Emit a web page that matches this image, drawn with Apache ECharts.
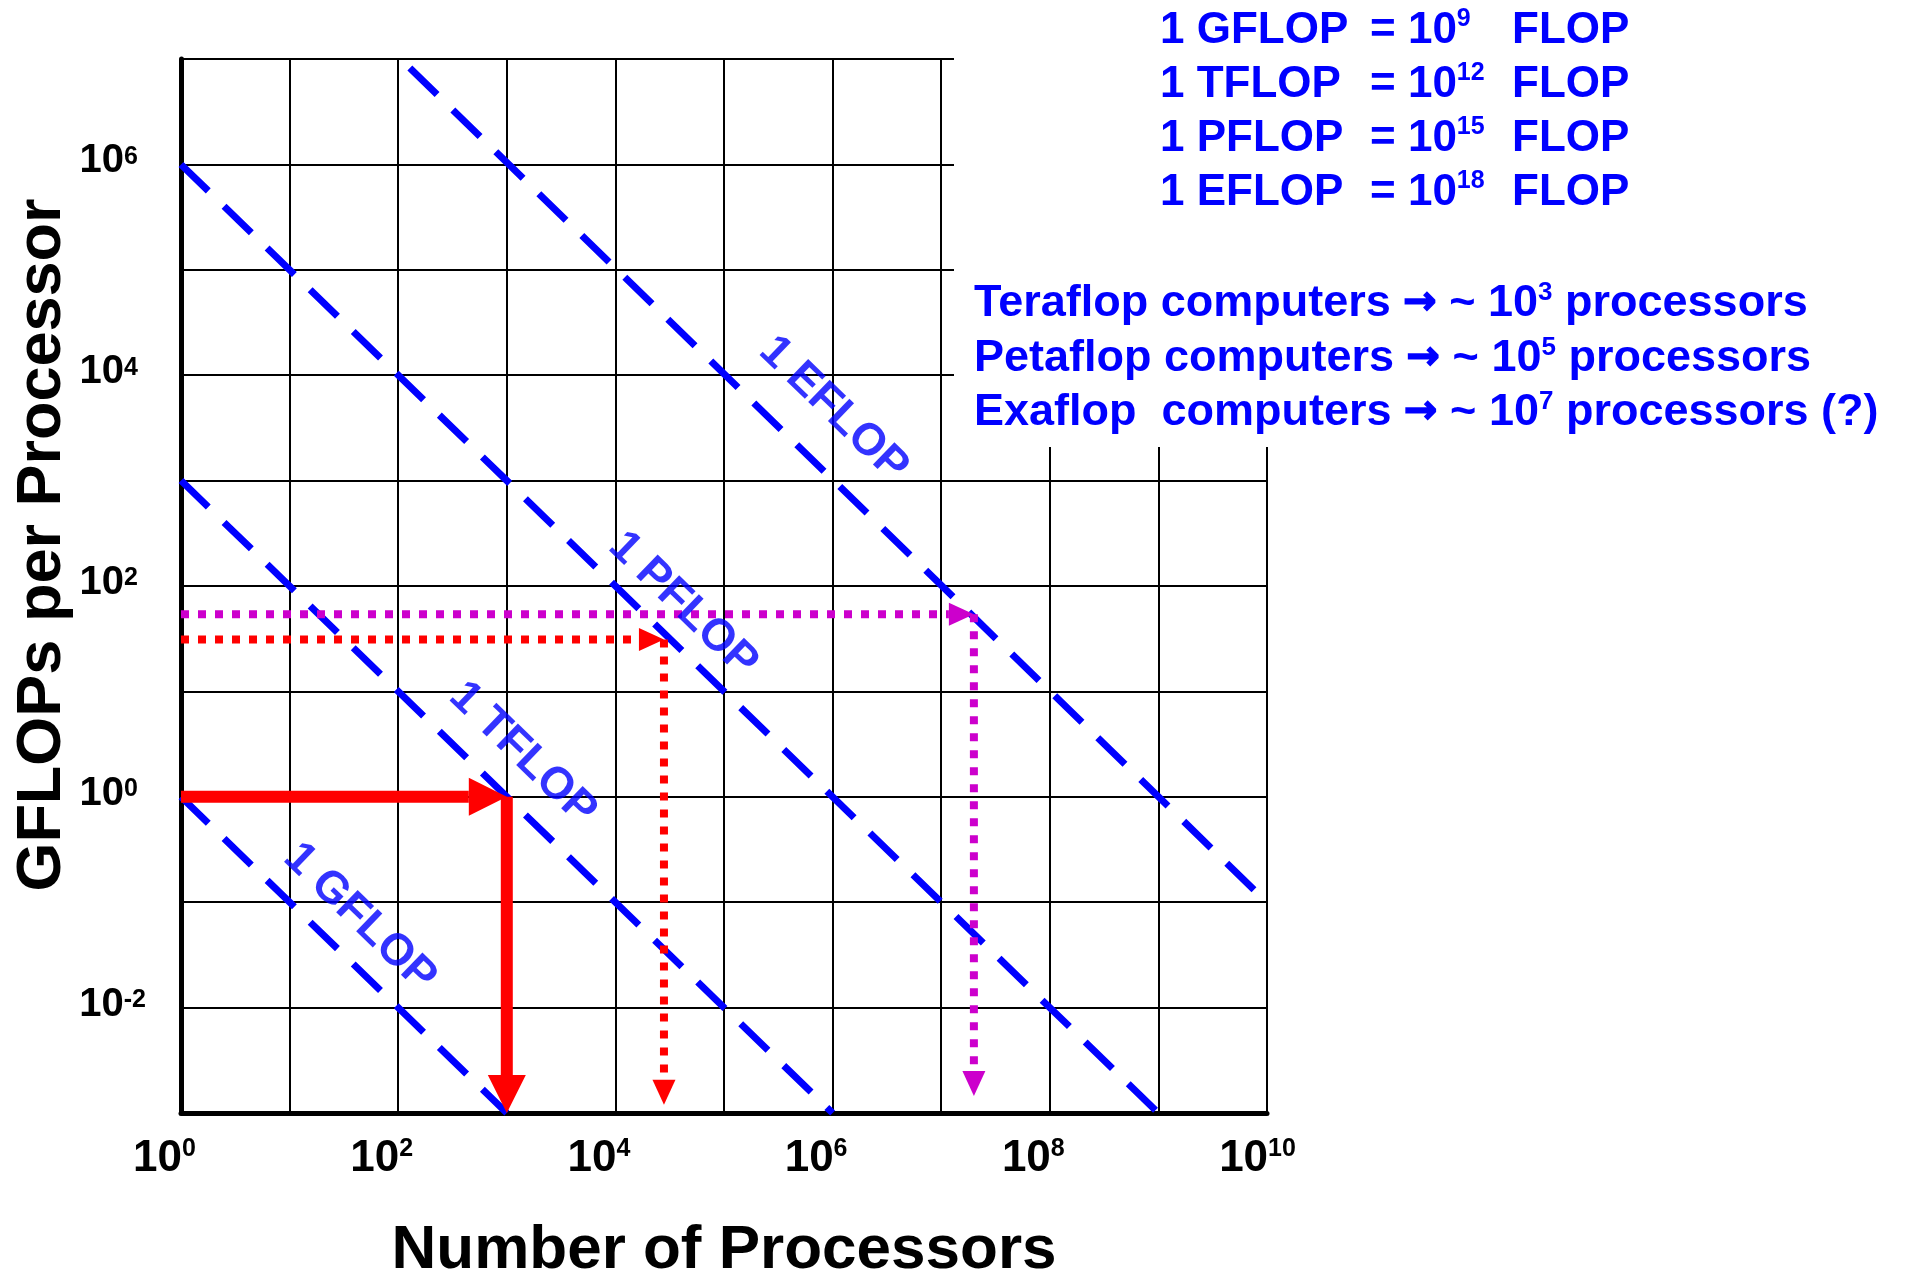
<!DOCTYPE html>
<html><head><meta charset="utf-8">
<script src="https://cdn.jsdelivr.net/npm/echarts@6/dist/echarts.min.js"></script>
<style>html,body{margin:0;padding:0;background:#fff}#c{width:1915px;height:1270px}</style>
</head><body><div id="c"></div>
<script>
const FONT = '"Liberation Sans", Arial, Helvetica, sans-serif';
const BLUE = '#0000ff', RED = '#ff0000', MAGENTA = '#cc00cc';

// axis extents and labelled tick exponents
const xRange = [1, 1e10];
const yRange = [1e-3, 1e7];
const xTickExponents = [0, 2, 4, 6, 8, 10];
const yTickExponents = [-2, 0, 2, 4, 6];

// constant total-performance lines: [number of processors, GFLOPs per processor]
const gflopLine = [[1, 1], [1e3, 1e-3]];
const tflopLine = [[1, 1e3], [1e6, 1e-3]];
const pflopLine = [[1, 1e6], [1e9, 1e-3]];
const eflopLine = [[128, 8.2e6], [8.3e9, 0.12]];

const lineLabels = ['1 GFLOP', '1 TFLOP', '1 PFLOP', '1 EFLOP'];
const lineLabelAnchors = [[44.3, 0.0711], [1397, 2.55], [41900, 66.3], [1.02e6, 4750]];

// arrows: [x1, y1, x2, y2]
const teraflopArrows = [[1, 1, 1e3, 1], [1e3, 1, 1e3, 1e-3]];
const petaflopArrows = [[1, 31, 2.8e4, 31], [2.8e4, 31, 2.8e4, 0.0012]];
const exaflopArrows = [[1, 54, 2e7, 54], [2e7, 54, 2e7, 0.00145]];

// annotation text
const unitNames = ['1 GFLOP', '1 TFLOP', '1 PFLOP', '1 EFLOP'];
const unitExponents = [9, 12, 15, 18];
const computerClasses = ['Teraflop', 'Petaflop', 'Exaflop '];
const processorExponents = [3, 5, 7];
const processorNotes = ['', '', ' (?)'];

const chart = echarts.init(document.getElementById('c'));

function expOf(v) { return Math.round(Math.log10(v)); }

function dashedLine(data) {
  return {
    type: 'line', data: data, symbol: 'none', silent: true, z: 3,
    lineStyle: { color: BLUE, width: 7, type: [38, 22], cap: 'butt' }
  };
}

function arrowSeries(data, color, width, dash, headLen, headWidth) {
  return {
    type: 'custom', data: data, encode: { x: [0, 2], y: [1, 3] }, z: 4, silent: true,
    renderItem: function (params, api) {
      const a = api.coord([api.value(0), api.value(1)]);
      const b = api.coord([api.value(2), api.value(3)]);
      const dx = b[0] - a[0], dy = b[1] - a[1];
      const len = Math.hypot(dx, dy) || 1;
      const ux = dx / len, uy = dy / len;
      const bx = b[0] - ux * headLen, by = b[1] - uy * headLen;
      const px = -uy * headWidth / 2, py = ux * headWidth / 2;
      return {
        type: 'group', children: [
          { type: 'line', shape: { x1: a[0], y1: a[1], x2: bx, y2: by },
            style: { stroke: color, lineWidth: width, lineDash: dash, lineCap: 'butt', fill: null } },
          { type: 'polygon', shape: { points: [[b[0], b[1]], [bx + px, by + py], [bx - px, by - py]] },
            style: { fill: color } }
        ]
      };
    }
  };
}

const blueRich = {
  t: { fill: BLUE, fontSize: 44, fontWeight: 'bold', fontFamily: FONT, lineHeight: 48 },
  s: { fill: BLUE, fontSize: 25, fontWeight: 'bold', fontFamily: FONT, lineHeight: 25, verticalAlign: 'top' }
};
const blueRich2 = {
  t: { fill: BLUE, fontSize: 45, fontWeight: 'bold', fontFamily: FONT, lineHeight: 48 },
  a: { fill: BLUE, stroke: BLUE, lineWidth: 1.5, fontSize: 40, fontWeight: 'bold', fontFamily: '"DejaVu Sans", sans-serif', lineHeight: 48 },
  s: { fill: BLUE, fontSize: 26, fontWeight: 'bold', fontFamily: FONT, lineHeight: 26, verticalAlign: 'top' }
};

function txt(x, y, text, rich) {
  return {
    type: 'text', x: x, y: y, z: 100, silent: true,
    style: { text: text, rich: rich, align: 'left', verticalAlign: 'middle' }
  };
}

const graphics = [
  { type: 'rect', z: 1, silent: true, shape: { x: 954, y: 0, width: 961, height: 447 }, style: { fill: '#ffffff' } },
  { type: 'text', z: 100, silent: true, x: 43, y: 545, rotation: Math.PI / 2,
    style: { text: 'GFLOPs per Processor', fill: '#000', fontSize: 63, fontWeight: 'bold', fontFamily: FONT,
             align: 'center', verticalAlign: 'middle' } }
];
unitNames.forEach(function (n, i) {
  const y = 31 + 54 * i;
  graphics.push(txt(1160, y, '{t|' + n + '}', blueRich));
  graphics.push(txt(1370, y, '{t|= 10}{s|' + unitExponents[i] + '}', blueRich));
  graphics.push(txt(1512, y, '{t|FLOP}', blueRich));
});
computerClasses.forEach(function (c, i) {
  const y = 304 + 54.5 * i;
  graphics.push(txt(974, y, '{t|' + c + ' computers }{a|\u2192}{t| ~ 10}{s|' + processorExponents[i] + '}{t| processors' + processorNotes[i] + '}', blueRich2));
});

function supStyle(size, padRight) {
  return { fontSize: size, fontWeight: 'bold', fontFamily: FONT, color: '#000', lineHeight: size, verticalAlign: 'top', padding: [0, padRight, 0, 0] };
}
function tickLabel(e) {
  return '{b|10}{' + (String(e).length > 1 ? 's2' : 's1') + '|' + e + '}';
}

const option = {
  animation: false,
  backgroundColor: '#ffffff',
  grid: { left: 181, top: 59, width: 1086, height: 1054, containLabel: false, outerBoundsMode: 'none' },
  xAxis: {
    type: 'log', logBase: 10, min: xRange[0], max: xRange[1], interval: 1, splitNumber: 10,
    axisLine: { show: true, onZero: false, lineStyle: { color: '#000', width: 5 } },
    axisTick: { show: false },
    splitLine: { show: true, lineStyle: { color: '#000', width: 2 } },
    minorTick: { show: false }, minorSplitLine: { show: false },
    name: 'Number of Processors', nameLocation: 'middle', nameGap: 107,
    nameTextStyle: { color: '#000', fontSize: 62, fontWeight: 'bold', fontFamily: FONT },
    axisLabel: {
      showMinLabel: true, showMaxLabel: true, margin: 24, align: 'center',
      formatter: function (v) { const e = expOf(v); return xTickExponents.indexOf(e) >= 0 ? tickLabel(e) : ''; },
      rich: {
        b: { fontSize: 44, fontWeight: 'bold', fontFamily: FONT, color: '#000', lineHeight: 44 },
        s1: supStyle(25, 33),
        s2: supStyle(25, 19)
      }
    }
  },
  yAxis: {
    type: 'log', logBase: 10, min: yRange[0], max: yRange[1], interval: 1, splitNumber: 10,
    axisLine: { show: true, onZero: false, lineStyle: { color: '#000', width: 5 } },
    axisTick: { show: false },
    splitLine: { show: true, lineStyle: { color: '#000', width: 2 } },
    minorTick: { show: false }, minorSplitLine: { show: false },
    axisLabel: {
      showMinLabel: true, showMaxLabel: true, margin: 27, align: 'right',
      formatter: function (v) { const e = expOf(v); return yTickExponents.indexOf(e) >= 0 ? tickLabel(e) : ''; },
      rich: {
        b: { fontSize: 40, fontWeight: 'bold', fontFamily: FONT, color: '#000', lineHeight: 40, padding: [0, 0, 6, 0] },
        s1: supStyle(25, 16),
        s2: supStyle(25, 8)
      }
    }
  },
  series: [
    dashedLine(gflopLine), dashedLine(tflopLine), dashedLine(pflopLine), dashedLine(eflopLine),
    arrowSeries(teraflopArrows, RED, 12, null, 38, 38),
    arrowSeries(petaflopArrows, RED, 8, [8, 9], 25, 23),
    arrowSeries(exaflopArrows, MAGENTA, 8, [8, 9], 25, 23),
    {
      type: 'scatter', silent: true, z: 5, symbolSize: 1,
      itemStyle: { color: 'rgba(0,0,0,0)' },
      data: lineLabelAnchors.map(function (p, i) { return { value: p, name: lineLabels[i] }; }),
      label: { show: true, position: 'inside', rotate: -44, formatter: function (p) { return p.name; },
               color: BLUE, fontSize: 45, fontWeight: 'bold', fontFamily: FONT }
    }
  ],
  graphic: { elements: graphics }
};
chart.setOption(option);
</script>
</body></html>
